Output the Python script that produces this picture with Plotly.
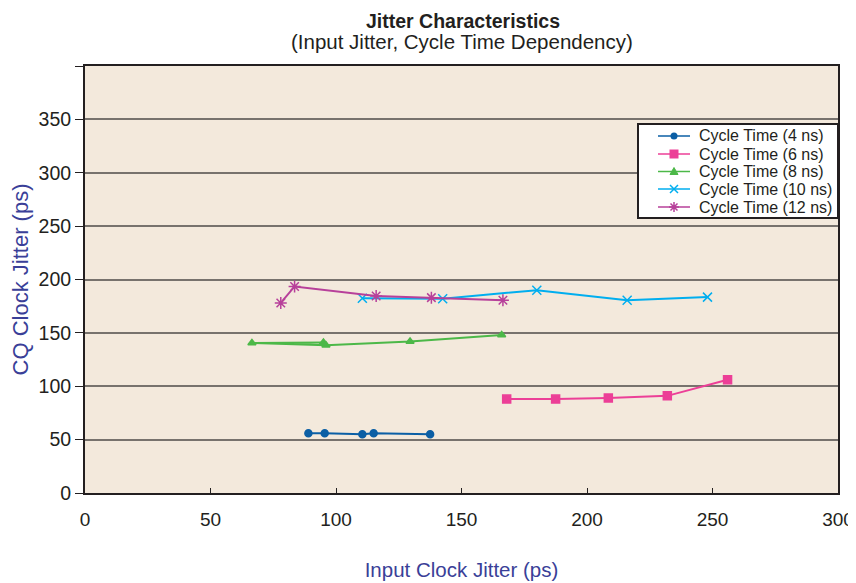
import plotly.graph_objects as go

# Data
x_4ns = [89, 95.5, 110.5, 115, 137.5]
y_4ns = [56, 56, 55, 56, 55]
x_6ns = [168, 187.5, 208.5, 232, 256]
y_6ns = [88, 88, 89, 91, 106]
x_8ns = [95, 66.5, 96, 129.5, 166]
y_8ns = [141, 140.5, 138.5, 142, 148]
x_10ns = [110.5, 142.5, 180, 216, 248]
y_10ns = [182.5, 182, 190, 180.5, 183.5]
x_12ns = [78, 83.5, 116, 138, 166.5]
y_12ns = [178, 193.5, 184.5, 183, 180.5]

series_names = ["Cycle Time (4 ns)", "Cycle Time (6 ns)", "Cycle Time (8 ns)",
                "Cycle Time (10 ns)", "Cycle Time (12 ns)"]
x_ticks = [0, 50, 100, 150, 200, 250, 300]
y_ticks = [0, 50, 100, 150, 200, 250, 300, 350, 400]
y_ticktext = ["0", "50", "100", "150", "200", "250", "300", "350", ""]

colors = ["#0b5fa5", "#ec3f97", "#4cb848", "#00aeef", "#b7409a"]
symbols = ["circle", "square", "triangle-up", "x-thin-open", "asterisk-open"]
sizes = [7, 8, 7, 9, 10]
xs_all = [x_4ns, x_6ns, x_8ns, x_10ns, x_12ns]
ys_all = [y_4ns, y_6ns, y_8ns, y_10ns, y_12ns]

fig = go.Figure()
for name, xs, ys, color, sym, size in zip(series_names, xs_all, ys_all, colors, symbols, sizes):
    fig.add_trace(go.Scatter(
        x=xs, y=ys, mode="lines+markers", name=name, showlegend=False,
        line=dict(color=color, width=2),
        marker=dict(symbol=sym, size=size, color=color,
                    line=dict(color=color, width=1.5)),
    ))

# The page shows the figure 8px in from the top-left, so lay it out in 848x575
OFF = 8
W, H = 848, 575
L, R, T, B = 77, 18, 58, 90
plot_w = W - L - R
plot_h = H - T - B


def px_x(px):
    return (px - OFF - L) / plot_w


def px_y(py):
    return (H - B - (py - OFF)) / plot_h


font_family = "Liberation Sans, Arial, sans-serif"
shapes = []
annotations = [
    dict(text="<b>Jitter Characteristics</b>",
         x=px_x(463), y=px_y(OFF + 0.5), xref="paper", yref="paper", yanchor="top",
         showarrow=False, font=dict(size=19.5, color="#231f20")),
    dict(text="(Input Jitter, Cycle Time Dependency)",
         x=px_x(462), y=px_y(42), xref="paper", yref="paper", yanchor="middle",
         showarrow=False, font=dict(size=20.5, color="#231f20")),
]

# Legend box (drawn by hand to match the compact original legend)
lg_left, lg_right, lg_top, lg_bottom = 638, 838, 124, 218
shapes.append(dict(type="rect", xref="paper", yref="paper",
                   x0=px_x(lg_left), x1=px_x(lg_right), y0=px_y(lg_bottom), y1=px_y(lg_top),
                   fillcolor="white", line=dict(color="#231f20", width=2), layer="above"))
row_y = [136, 154, 171.5, 189, 207]
glyph_paths = {
    "triangle-up": "M -4,-3 L 4,-3 L 0,4 Z",
    "x-thin-open": "M -4,-4 L 4,4 M -4,4 L 4,-4",
    "asterisk-open": "M -5,0 L 5,0 M 0,-5 L 0,5 M -3.5,-3.5 L 3.5,3.5 M -3.5,3.5 L 3.5,-3.5",
}
for name, color, sym, ry in zip(series_names, colors, symbols, row_y):
    yy = px_y(ry)
    shapes.append(dict(type="line", xref="paper", yref="paper",
                       x0=px_x(658), x1=px_x(690), y0=yy, y1=yy,
                       line=dict(color=color, width=1.5), layer="above"))
    common = dict(xref="paper", yref="paper", xsizemode="pixel", ysizemode="pixel",
                  xanchor=px_x(674), yanchor=yy, layer="above")
    if sym == "circle":
        shapes.append(dict(type="circle", x0=-3.5, x1=3.5, y0=-3.5, y1=3.5,
                           fillcolor=color, line=dict(color=color, width=0), **common))
    elif sym == "square":
        shapes.append(dict(type="rect", x0=-4.5, x1=4.5, y0=-4.5, y1=4.5,
                           fillcolor=color, line=dict(color=color, width=0), **common))
    elif sym == "triangle-up":
        shapes.append(dict(type="path", path=glyph_paths[sym],
                           fillcolor=color, line=dict(color=color, width=1), **common))
    else:
        shapes.append(dict(type="path", path=glyph_paths[sym],
                           line=dict(color=color, width=1.5), **common))
    annotations.append(dict(text=name, x=px_x(697), y=yy, xref="paper", yref="paper",
                            xanchor="left", yanchor="middle", showarrow=False,
                            font=dict(size=16, color="#231f20")))

fig.update_layout(
    width=W, height=H,
    margin=dict(l=L, r=R, t=T, b=B),
    paper_bgcolor="white",
    plot_bgcolor="#f3e9dc",
    font=dict(family=font_family, color="#231f20"),
    showlegend=False,
    shapes=shapes,
    annotations=annotations,
)

fig.update_xaxes(
    range=[0, 300], tickvals=x_ticks, automargin=False,
    showgrid=False, zeroline=False,
    showline=True, linecolor="#231f20", linewidth=2, mirror=True,
    ticks="inside", ticklen=5, tickcolor="#231f20", tickwidth=1,
    tickfont=dict(size=19, color="#231f20"), ticklabelstandoff=8,
    title=dict(text="Input Clock Jitter (ps)", font=dict(size=20.5, color="#3a3f98"), standoff=34),
)
fig.update_yaxes(
    range=[0, 400], tickvals=y_ticks, ticktext=y_ticktext, automargin=False,
    showgrid=True, gridcolor="#77726d", gridwidth=1.5, zeroline=False,
    showline=True, linecolor="#231f20", linewidth=2, mirror=True,
    ticks="outside", ticklen=8, tickcolor="#231f20", tickwidth=1,
    tickfont=dict(size=19.5, color="#231f20"),
    title=dict(text="CQ Clock Jitter (ps)", font=dict(size=22, color="#3a3f98"), standoff=7),
)

fig.write_html("out.html")
